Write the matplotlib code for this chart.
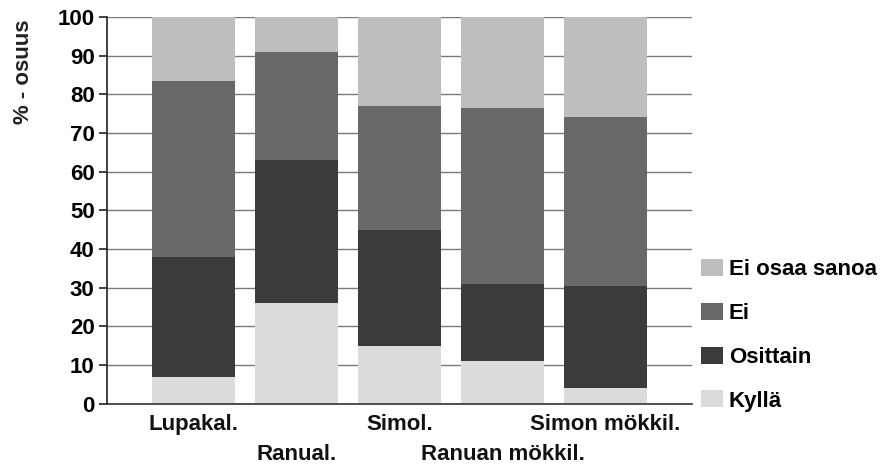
import matplotlib
matplotlib.use("Agg")
import matplotlib.pyplot as plt
import numpy as np

categories = ["Lupakal.", "Ranual.", "Simol.", "Ranuan mökkil.", "Simon mökkil."]
kylla = [7, 26, 15, 11, 4]
osittain = [31, 37, 30, 20, 26.5]
ei = [45.5, 28, 32, 45.5, 43.5]
ei_osaa = [16.5, 9, 23, 23.5, 26]
yticks = list(range(0, 101, 10))

series = [("Kyllä", kylla, "#dcdcdc"),
          ("Osittain", osittain, "#3b3b3b"),
          ("Ei", ei, "#686868"),
          ("Ei osaa sanoa", ei_osaa, "#bebebe")]

plt.rcParams['font.family'] = ['Liberation Sans', 'DejaVu Sans']
plt.rcParams['font.weight'] = 'bold'
FS = 16

fig = plt.figure(figsize=(8.85, 4.68), dpi=100)
ax = fig.add_axes([0.121, 0.137, 0.661, 0.827])

x = np.arange(len(categories))
bottom = np.zeros(len(categories))
handles = {}
for name, vals, col in series:
    b = ax.bar(x, vals, 0.8, bottom=bottom, color=col, zorder=2, label=name)
    handles[name] = b
    bottom += np.array(vals)

ax.set_ylim(0, 100)
ax.set_xlim(-0.84, 4.84)
ax.set_yticks(yticks)
ax.set_yticklabels([str(t) for t in yticks], fontsize=FS, fontweight='bold')
ax.yaxis.grid(True, color="#7a7a7a", linewidth=1.0, zorder=0)
ax.set_axisbelow(True)
ax.tick_params(axis='y', length=6, width=1.2, color='#222222', pad=3)
ax.tick_params(axis='x', length=0)
ax.set_xticks(x)
ax.set_xticklabels([])
for i, c in enumerate(categories):
    dy = -0.026 if i % 2 == 0 else -0.104
    ax.text(i, dy, c, transform=ax.get_xaxis_transform(), ha='center', va='top',
            fontsize=FS, fontweight='bold', color='#111111')

for s in ['top', 'right']:
    ax.spines[s].set_visible(False)
ax.spines['left'].set_color('#222222')
ax.spines['left'].set_linewidth(1.2)
ax.spines['bottom'].set_color('#333333')
ax.spines['bottom'].set_linewidth(1.2)

fig.text(0.027, 0.846, "% - osuus", rotation=90, ha='center', va='center',
         fontsize=FS, fontweight='bold', color='#222222')

order = ["Ei osaa sanoa", "Ei", "Osittain", "Kyllä"]
leg = fig.legend([handles[n] for n in order], order, loc='upper left',
                 bbox_to_anchor=(0.792, 0.447), frameon=False, fontsize=FS,
                 handlelength=1.0, handleheight=0.8, handletextpad=0.25,
                 labelspacing=1.02, borderaxespad=0, borderpad=0)
for t in leg.get_texts():
    t.set_fontweight('bold')

fig.savefig("out.png", dpi=100)
